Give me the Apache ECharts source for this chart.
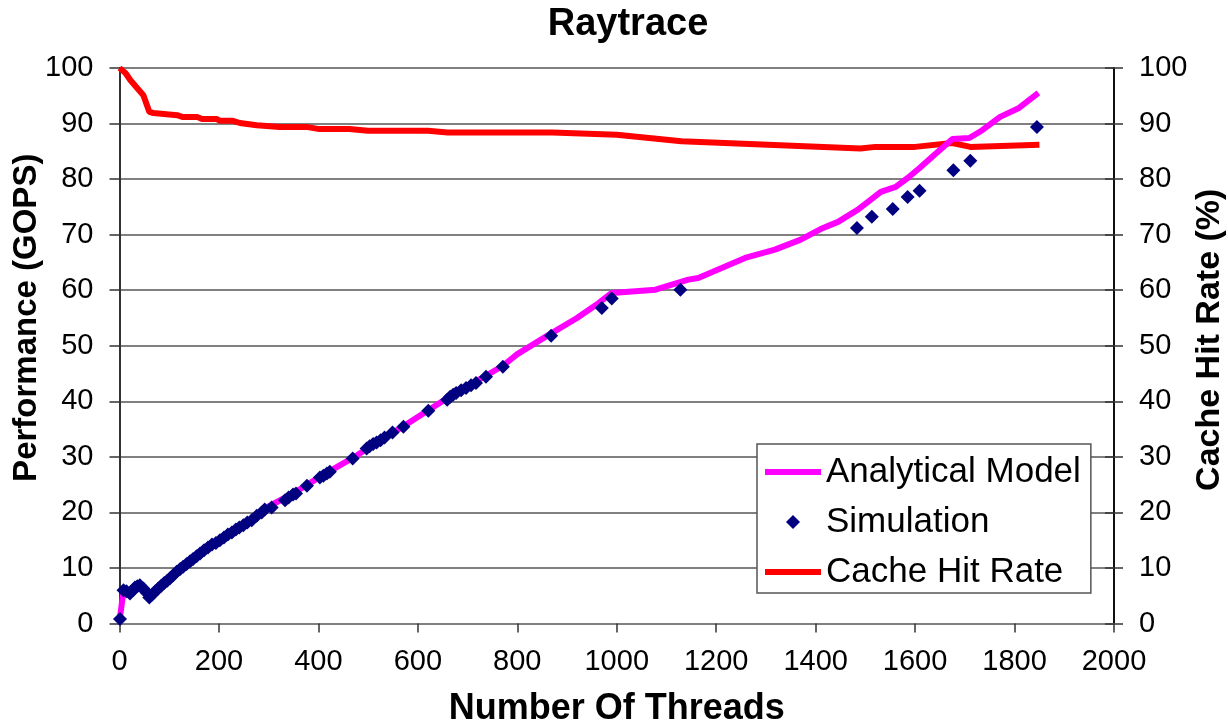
<!DOCTYPE html>
<html>
<head>
<meta charset="utf-8">
<script src="https://cdn.jsdelivr.net/npm/echarts@6/dist/echarts.min.js"></script>
<style>
  html, body { margin: 0; padding: 0; background: #fff; }
  #chart { width: 1228px; height: 726px; }
</style>
</head>
<body>
<div id="chart"></div>
<script>
// analytical model (threads -> GOPS)
const modelThreads = [0, 8, 20, 35, 45, 50, 62, 115, 162, 202, 249, 292, 349, 403, 469, 533, 571, 621, 677, 737, 771, 800, 864, 920, 964, 990, 1078, 1144, 1164, 1258, 1318, 1370, 1410, 1445, 1485, 1511, 1531, 1561, 1585, 1609, 1639, 1675, 1709, 1735, 1771, 1809, 1848];
const modelGops = [0.5, 5.8, 5.6, 6.5, 6.6, 6.2, 4.8, 9.3, 12.6, 15.0, 17.7, 20.7, 23.4, 26.4, 29.8, 33.5, 35.5, 38.4, 41.6, 44.6, 46.4, 48.5, 52.0, 55.0, 57.7, 59.5, 60.1, 61.9, 62.2, 65.8, 67.3, 69.1, 71.0, 72.3, 74.5, 76.3, 77.7, 78.6, 80.2, 82.0, 84.4, 87.2, 87.4, 88.8, 91.2, 92.8, 95.5];

// simulation points
const simThreads = [1, 8, 14, 21, 27, 31, 36, 41, 48, 54, 60, 66, 72, 78, 84, 90, 96, 102, 108, 115, 122, 128, 135, 142, 148, 155, 162, 170, 178, 186, 194, 202, 210, 218, 226, 234, 241, 249, 257, 266, 276, 286, 292, 306, 333, 340, 349, 355, 377, 403, 410, 417, 423, 469, 497, 503, 510, 517, 525, 533, 549, 571, 621, 659, 665, 671, 677, 687, 697, 707, 717, 737, 771, 868, 970, 990, 1128, 1483, 1513, 1555, 1585, 1609, 1677, 1711, 1845];
const simGops = [0.8, 6.0, 5.8, 5.4, 6.0, 6.5, 6.7, 6.9, 6.3, 5.6, 4.7, 5.2, 5.8, 6.3, 6.8, 7.3, 7.7, 8.2, 8.7, 9.3, 9.8, 10.2, 10.7, 11.2, 11.6, 12.1, 12.6, 13.2, 13.7, 14.2, 14.5, 15.0, 15.5, 16.0, 16.4, 16.9, 17.3, 17.7, 18.2, 18.6, 19.4, 20.0, 20.5, 20.9, 22.2, 22.7, 23.2, 23.4, 24.8, 26.3, 26.6, 27.0, 27.3, 29.7, 31.5, 31.9, 32.3, 32.6, 33.0, 33.5, 34.4, 35.4, 38.3, 40.3, 40.8, 41.2, 41.5, 42.0, 42.4, 42.9, 43.3, 44.4, 46.2, 51.8, 56.8, 58.5, 60.1, 71.2, 73.2, 74.6, 76.8, 77.9, 81.6, 83.3, 89.4];

// cache hit rate (%)
const cacheThreads = [0, 2, 12, 22, 48, 60, 68, 116, 126, 156, 166, 196, 202, 228, 242, 276, 322, 376, 402, 462, 500, 620, 660, 870, 1000, 1130, 1490, 1520, 1600, 1675, 1711, 1850];
const cacheRate = [100, 100, 99.1, 97.8, 95.1, 92.1, 91.9, 91.5, 91.2, 91.2, 90.8, 90.8, 90.5, 90.5, 90.1, 89.7, 89.4, 89.4, 89.0, 89.0, 88.7, 88.7, 88.4, 88.4, 88.0, 86.8, 85.5, 85.8, 85.8, 86.5, 85.8, 86.2];

const zip = (xs, ys) => xs.map((x, i) => [x, ys[i]]);
const font = "Liberation Sans";
const plain = v => String(v);

const chart = echarts.init(document.getElementById("chart"));
chart.setOption({
  animation: false,
  textStyle: { fontFamily: font },
  title: {
    text: "Raytrace",
    left: 623, top: 1, textAlign: "center",
    textStyle: { fontFamily: font, fontSize: 38, fontWeight: "bold", color: "#000" }
  },
  grid: { left: 119.5, right: 114, top: 68, bottom: 102.5, outerBoundsMode: "none", containLabel: false },
  legend: {
    orient: "vertical",
    left: 757, top: 444,
    padding: [9, 10, 2, 8],
    itemGap: 12,
    itemWidth: 56, itemHeight: 14,
    backgroundColor: "#fff",
    borderColor: "#555", borderWidth: 1.5,
    textStyle: { fontFamily: font, fontSize: 35, color: "#000", lineHeight: 38 },
    data: [
      { name: "Analytical Model", icon: "path://M0,0H56V6H0Z" },
      { name: "Simulation", icon: "path://M0,7L7,0L14,7L7,14Z" },
      { name: "Cache Hit Rate", icon: "path://M0,0H56V6H0Z" }
    ]
  },
  xAxis: {
    type: "value", min: 0, max: 2000, interval: 200,
    name: "Number Of Threads", nameLocation: "middle", nameGap: 68, nameMoveOverlap: false,
    nameTextStyle: { fontFamily: font, fontSize: 36, fontWeight: "bold", color: "#000" },
    axisLine: { lineStyle: { color: "#808080", width: 2 } },
    axisTick: { inside: false, length: 9, lineStyle: { color: "#333", width: 1.5 } },
    axisLabel: { fontSize: 29, color: "#000", margin: 24, formatter: plain },
    splitLine: { show: false }
  },
  yAxis: [
    {
      type: "value", min: 0, max: 100, interval: 10, position: "left",
      name: "Performance (GOPS)", nameLocation: "middle", nameGap: 76, nameRotate: 90, nameMoveOverlap: false,
      nameTextStyle: { fontFamily: font, fontSize: 33, fontWeight: "bold", color: "#000", padding: [0, 0, 0, 56] },
      axisLine: { show: true, lineStyle: { color: "#333", width: 2 } },
      axisTick: { show: true, length: 10, lineStyle: { color: "#333", width: 1.5 } },
      axisLabel: { fontSize: 29, color: "#000", margin: 26, formatter: plain },
      splitLine: { show: true, lineStyle: { color: "#808080", width: 2 } }
    },
    {
      type: "value", min: 0, max: 100, interval: 10, position: "right",
      name: "Cache Hit Rate (%)", nameLocation: "middle", nameGap: 79, nameRotate: 90, nameMoveOverlap: false,
      nameTextStyle: { fontFamily: font, fontSize: 34, fontWeight: "bold", color: "#000", padding: [0, 0, 0, 12] },
      axisLine: { show: true, lineStyle: { color: "#111", width: 2 } },
      axisTick: { show: true, length: 9, lineStyle: { color: "#333", width: 1.5 } },
      axisLabel: { fontSize: 29, color: "#000", margin: 25, formatter: plain },
      splitLine: { show: false }
    },
    {
      // inner half of the crossing ticks on the right axis
      type: "value", min: 0, max: 100, interval: 10, position: "right",
      axisLine: { show: false },
      axisTick: { show: true, inside: true, length: 9, lineStyle: { color: "#333", width: 1.5 } },
      axisLabel: { show: false },
      splitLine: { show: false }
    }
  ],
  series: [
    {
      name: "Cache Hit Rate", type: "line", yAxisIndex: 1, z: 2,
      data: zip(cacheThreads, cacheRate),
      showSymbol: false, color: "#FF0000",
      lineStyle: { color: "#FF0000", width: 6 }
    },
    {
      name: "Analytical Model", type: "line", yAxisIndex: 0, z: 3,
      data: zip(modelThreads, modelGops),
      showSymbol: false, color: "#FF00FF",
      lineStyle: { color: "#FF00FF", width: 6 }
    },
    {
      name: "Simulation", type: "scatter", yAxisIndex: 0, z: 4,
      data: zip(simThreads, simGops),
      symbol: "diamond", symbolSize: 14, color: "#000080",
      itemStyle: { color: "#000080", opacity: 1 }
    }
  ]
});
window.addEventListener("resize", () => chart.resize());
</script>
</body>
</html>
